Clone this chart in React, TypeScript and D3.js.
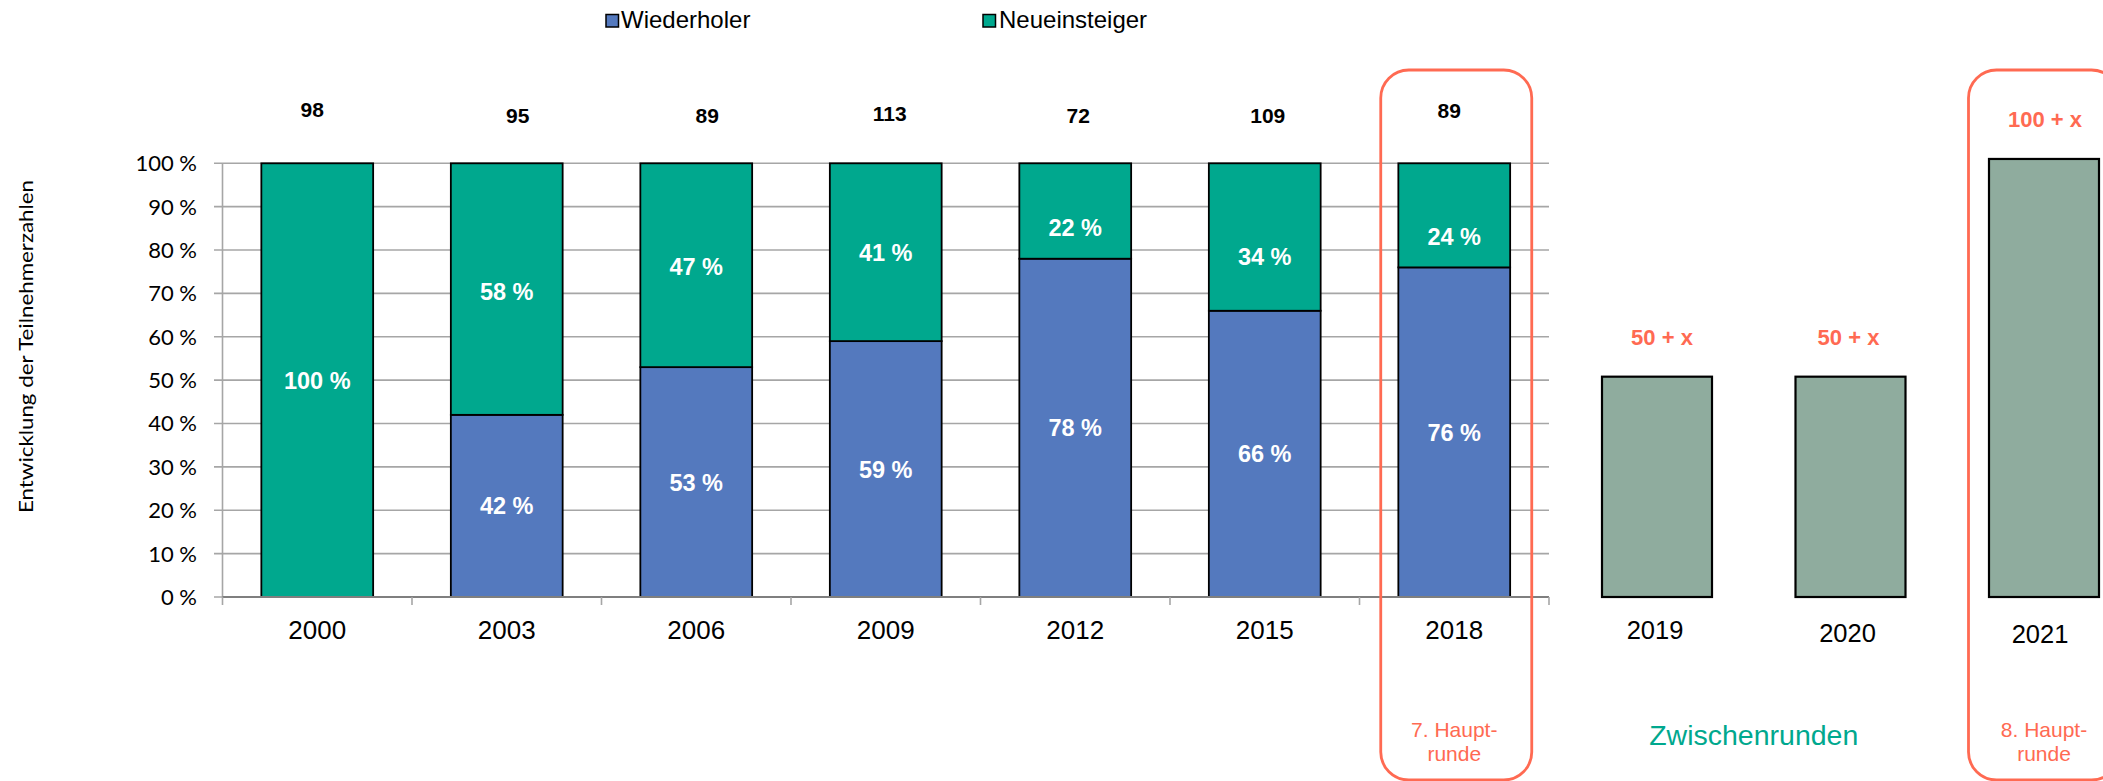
import React from "react";
import * as d3 from "d3";

const years = ["2000", "2003", "2006", "2009", "2012", "2015", "2018"];
const wiederholer = [0, 42, 53, 59, 78, 66, 76];
const neueinsteiger = [100, 58, 47, 41, 22, 34, 24];
const totals = [98, 95, 89, 113, 72, 109, 89];
const futureYears = ["2019", "2020", "2021"];
const futureValues = [50.8, 50.8, 101];
const futureLabels = ["50 + x", "50 + x", "100 + x"];
const yTicks = [0, 10, 20, 30, 40, 50, 60, 70, 80, 90, 100];
const seriesNames = ["Wiederholer", "Neueinsteiger"];

// label placement tweaks (style, not data)
const totalDx = [-5, 11, 11, 4, 3, 3, -5];
const totalBaseline = [117, 123, 123, 121, 123, 123, 118];
const futureLabelBaseline = [639, 642, 643];
const topSegmentDy = [0, 2, 1, 0, 17, 20, 21];

const W = 2103;
const H = 781;
const BLUE = "#5479BE";
const TEAL = "#00A88E";
const GREY = "#8FAC9E";
const SALMON = "#FF6A52";
const GRID = "#A6A6A6";
const ARIAL = "'Liberation Sans', Arial, sans-serif";
const CALIBRI = "Lato, 'Open Sans', sans-serif";

export default function App() {
  const x = d3
    .scaleBand<string>()
    .domain(years)
    .range([222.5, 1549])
    .paddingInner(0.41)
    .paddingOuter(0.205);
  const y = d3.scaleLinear().domain([0, 100]).range([597, 163.3]);
  const xf = d3.scalePoint<string>().domain(futureYears).range([1657, 2044]);
  const fBarW = 110;

  const table = years.map((yr, i) => ({
    year: yr,
    Wiederholer: wiederholer[i],
    Neueinsteiger: neueinsteiger[i],
  }));
  const stacked = d3.stack<any>().keys(seriesNames)(table);
  const colors = [BLUE, TEAL];

  const step = x.step();
  const x0 = x.range()[0];
  const boundaries = d3.range(years.length + 1).map((i) => x0 + i * step);
  const [plotLeft, plotRight] = x.range();

  const cx = (yr: string) => (x(yr) as number) + x.bandwidth() / 2;

  const boxW = 151;
  const boxTop = 70;
  const boxBottom = 780;

  return (
    <svg
      width={W}
      height={H}
      style={{ position: "absolute", left: 0, top: 0, background: "#fff" }}
    >
      {/* gridlines */}
      {yTicks.map((t) => (
        <line
          key={"g" + t}
          x1={214}
          x2={plotRight}
          y1={y(t)}
          y2={y(t)}
          stroke={GRID}
          strokeWidth={1.6}
        />
      ))}
      {/* y tick labels */}
      {yTicks.map((t) => (
        <text
          key={"t" + t}
          x={197}
          y={y(t)}
          dy="0.36em"
          textAnchor="end"
          fontFamily={CALIBRI}
          fontSize={22}
          fill="#000"
        >
          {t} %
        </text>
      ))}
      {/* y axis title */}
      <text
        transform="translate(33,346.5) rotate(-90)"
        textAnchor="middle"
        fontFamily={CALIBRI}
        fontSize={20}
        textLength={333}
        lengthAdjust="spacingAndGlyphs"
        fill="#000"
      >
        Entwicklung der Teilnehmerzahlen
      </text>

      {/* stacked bars */}
      {stacked.map((s, si) =>
        s.map((d, i) =>
          d[1] - d[0] > 0 ? (
            <rect
              key={`b${si}-${i}`}
              x={x(years[i])}
              y={y(d[1])}
              width={x.bandwidth()}
              height={y(d[0]) - y(d[1])}
              fill={colors[si]}
              stroke="#000"
              strokeWidth={1.8}
            />
          ) : null
        )
      )}
      {/* segment labels */}
      {stacked.map((s, si) =>
        s.map((d, i) =>
          d[1] - d[0] > 0 ? (
            <text
              key={`l${si}-${i}`}
              x={cx(years[i])}
              y={y((d[0] + d[1]) / 2) + (si === 1 ? topSegmentDy[i] : 0)}
              dy="0.36em"
              textAnchor="middle"
              fontFamily={ARIAL}
              fontWeight="bold"
              fontSize={23.5}
              fill="#fff"
            >
              {d[1] - d[0]} %
            </text>
          ) : null
        )
      )}

      {/* axes */}
      <line
        x1={plotLeft}
        x2={plotLeft}
        y1={y(100)}
        y2={y(0)}
        stroke={GRID}
        strokeWidth={1.6}
      />
      <line
        x1={plotLeft}
        x2={plotRight}
        y1={y(0)}
        y2={y(0)}
        stroke="#7F7F7F"
        strokeWidth={2}
      />
      {boundaries.map((b, i) => (
        <line
          key={"tk" + i}
          x1={b}
          x2={b}
          y1={y(0)}
          y2={y(0) + 8}
          stroke={GRID}
          strokeWidth={1.6}
        />
      ))}
      {/* x labels */}
      {years.map((yr) => (
        <text
          key={"x" + yr}
          x={cx(yr)}
          y={638.5}
          textAnchor="middle"
          fontFamily={ARIAL}
          fontSize={26}
          fill="#000"
        >
          {yr}
        </text>
      ))}

      {/* totals */}
      {years.map((yr, i) => (
        <text
          key={"tot" + yr}
          x={cx(yr) + totalDx[i]}
          y={totalBaseline[i]}
          textAnchor="middle"
          fontFamily={ARIAL}
          fontWeight="bold"
          fontSize={21}
          fill="#000"
        >
          {totals[i]}
        </text>
      ))}

      {/* future bars */}
      {futureYears.map((yr, i) => (
        <g key={"f" + yr}>
          <rect
            x={(xf(yr) as number) - fBarW / 2}
            y={y(futureValues[i])}
            width={fBarW}
            height={y(0) - y(futureValues[i])}
            fill={GREY}
            stroke="#000"
            strokeWidth={2.2}
          />
          <text
            x={(xf(yr) as number) + (i === 0 ? 5 : i === 1 ? -2 : 1)}
            y={y(futureValues[i]) - 32}
            textAnchor="middle"
            fontFamily={ARIAL}
            fontWeight="bold"
            fontSize={22}
            fill={SALMON}
          >
            {futureLabels[i]}
          </text>
          <text
            x={(xf(yr) as number) - (i === 0 ? 2 : i === 1 ? 3 : 4)}
            y={futureLabelBaseline[i]}
            textAnchor="middle"
            fontFamily={ARIAL}
            fontSize={25.5}
            fill="#000"
          >
            {yr}
          </text>
        </g>
      ))}

      {/* highlight boxes */}
      {[cx("2018") + 2, xf("2021") as number].map((c, i) => (
        <rect
          key={"box" + i}
          x={c - boxW / 2}
          y={boxTop}
          width={boxW}
          height={boxBottom - boxTop}
          rx={28}
          ry={28}
          fill="none"
          stroke={SALMON}
          strokeWidth={2.8}
        />
      ))}
      {[
        { c: cx("2018"), t: "7. Haupt-" },
        { c: xf("2021") as number, t: "8. Haupt-" },
      ].map((o, i) => (
        <text
          key={"hr" + i}
          textAnchor="middle"
          fontFamily={ARIAL}
          fontSize={21}
          fill={SALMON}
        >
          <tspan x={o.c} y={737}>
            {o.t}
          </tspan>
          <tspan x={o.c} y={761}>
            runde
          </tspan>
        </text>
      ))}
      <text
        x={((xf("2019") as number) + (xf("2020") as number)) / 2}
        y={745}
        textAnchor="middle"
        fontFamily={ARIAL}
        fontSize={28.5}
        fill={TEAL}
      >
        Zwischenrunden
      </text>

      {/* legend */}
      <rect x={606} y={14.5} width={12.5} height={12.5} fill={BLUE} stroke="#000" strokeWidth={1.5} />
      <text x={621} y={28} fontFamily={ARIAL} fontSize={24} fill="#000">
        {seriesNames[0]}
      </text>
      <rect x={983} y={14.5} width={12.5} height={12.5} fill={TEAL} stroke="#000" strokeWidth={1.5} />
      <text x={999} y={28} fontFamily={ARIAL} fontSize={24} fill="#000">
        {seriesNames[1]}
      </text>
    </svg>
  );
}
